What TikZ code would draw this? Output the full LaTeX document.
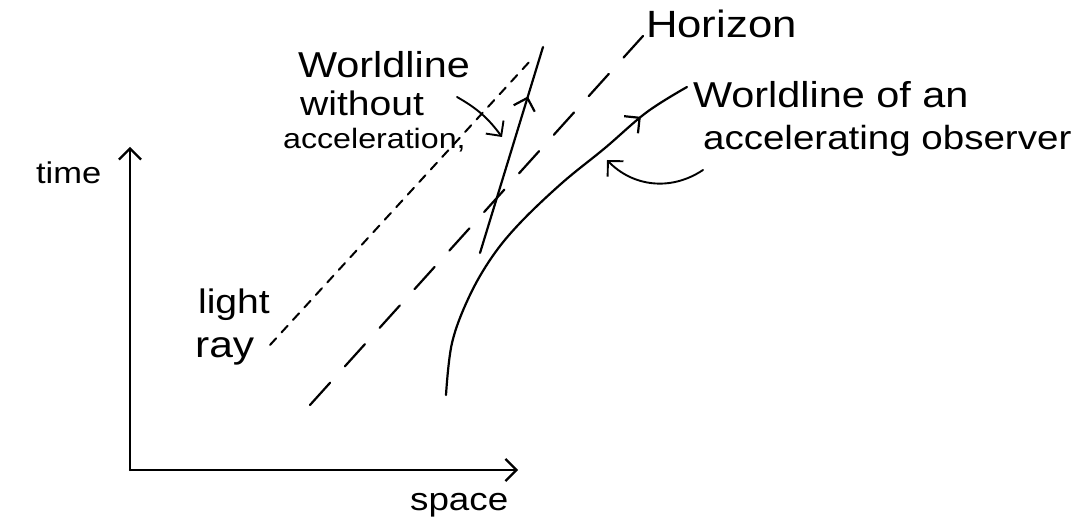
\documentclass[tikz,border=0pt]{standalone}
\usepackage{fontspec}
\setmainfont{Liberation Sans}
\usetikzlibrary{arrows.meta,decorations.markings}
\newcommand{\hw}[2]{\fontsize{#1}{#1}\selectfont\scalebox{1.15}[1]{#2}}
\begin{document}
\begin{tikzpicture}[x=1pt,y=-1pt, line width=2.2pt, line cap=round, line join=round,
  >={Straight Barb[length=11pt,width=22pt]},
  lbl/.style={inner sep=0pt, anchor=base west},
  midarrow/.style={decoration={markings, mark=at position #1 with {\arrow{>}}}, postaction={decorate}},
  lightray/.style={dash pattern=on 9pt off 8pt, line width=2pt},
  horizonline/.style={dash pattern=on 30pt off 22pt, line width=2.2pt}]
\useasboundingbox (0,0) rectangle (1087,518);

% axes
\coordinate (origin) at (130,470);
\coordinate (tend) at (130,147);
\coordinate (send) at (518,470);
\draw[->] (origin) -- (tend);
\draw[->] (origin) -- (send);

% light ray
\coordinate (lr0) at (270,345);
\coordinate (lr1) at (531,60);
\draw[lightray] (lr0) -- (lr1);

% horizon
\coordinate (hz0) at (310,405);
\coordinate (hz1) at (643,36);
\draw[horizonline] (hz0) -- (hz1);

% worldline without acceleration
\coordinate (wl0) at (480,253);
\coordinate (wl1) at (543,47);
\draw[midarrow=0.76] (wl0) -- (wl1);

% worldline of accelerating observer
\draw[midarrow=0.865] plot[smooth, tension=0.6] coordinates {(446,395) (452,343) (469,297) (492,257) (520,223) (562,183) (605,148) (647,112) (687,87)};

% labels
\node[lbl] (horizon) at (645,38) {\hw{38}{Horizon}};
\node[lbl] (wlof) at (692,108) {\hw{36}{Worldline of an}};
\node[lbl] (accobs) at (702,150) {\hw{33.5}{accelerating observer}};
\node[lbl] (wl) at (297,78) {\hw{36}{Worldline}};
\node[lbl] (without) at (299,116) {\hw{34}{without}};
\node[lbl] (accel) at (282,149) {\hw{28}{acceleration,}};
\node[lbl] (time) at (35,184) {\hw{30}{time}};
\node[lbl] (light) at (197,314) {\hw{34}{light}};
\node[lbl] (ray) at (194,358) {\hw{37}{ray}};
\node[lbl] (space) at (409,510) {\hw{32}{space}};

% pointer arrows
\coordinate (pa0) at (457,97);
\coordinate (pa1) at (502,137);
\draw[->, line width=1.9pt] (pa0) to[bend left=12] (pa1);
\coordinate (pb0) at (703,170);
\coordinate (pb1) at (607,160);
\draw[->, line width=1.9pt] (pb0) .. controls (670,192) and (632,186) .. (pb1);
\end{tikzpicture}
\end{document}
